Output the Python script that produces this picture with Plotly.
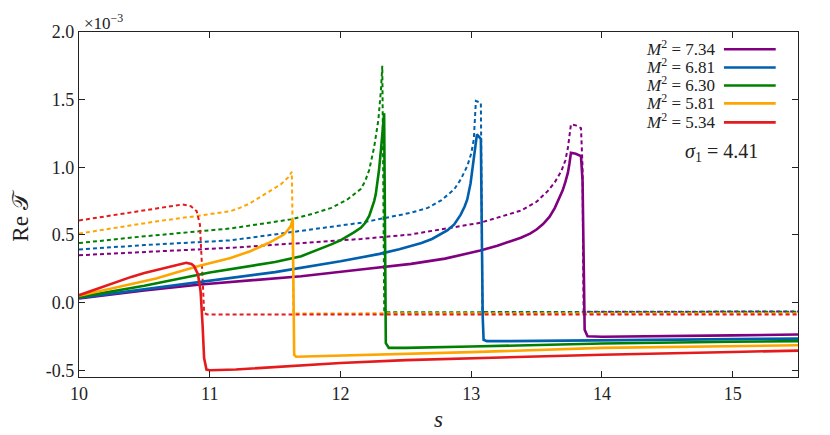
import plotly.graph_objects as go

# Re T (in units of 1e-3) versus s
# solid = one sheet, dashed = the other, one colour per M^2

m2_labels = ["7.34", "6.81", "6.30", "5.81", "5.34"]
colors = ["#800080", "#0060ad", "#008000", "#ffa500", "#e41a1c"]

# M^2 = 7.34
s_734_solid = [10.0, 10.5, 10.93, 11.16, 11.7, 12.156, 12.54, 12.8, 13.07, 13.2, 13.3, 13.38, 13.45,
               13.5, 13.55, 13.6, 13.64, 13.67, 13.7, 13.72, 13.74, 13.752, 13.763, 13.8, 13.84,
               13.852, 13.86, 13.868, 13.89, 14.0, 15.0, 15.5]
t_734_solid = [0.03, 0.09, 0.134, 0.151, 0.195, 0.245, 0.286, 0.325, 0.385, 0.42, 0.45, 0.479, 0.51,
               0.54, 0.58, 0.635, 0.70, 0.76, 0.83, 0.89, 0.96, 1.03, 1.107, 1.10, 1.083,
               0.9, 0.2, -0.2, -0.249, -0.252, -0.242, -0.236]
s_734_dash = [10.0, 10.5, 11.16, 12.156, 12.54, 13.07, 13.38, 13.5, 13.585, 13.64, 13.69, 13.72,
              13.74, 13.763, 13.8, 13.84, 13.852, 13.856, 13.86, 13.9, 15.5]
t_734_dash = [0.35, 0.375, 0.405, 0.47, 0.504, 0.59, 0.68, 0.745, 0.824, 0.89, 0.972, 1.05,
              1.144, 1.317, 1.31, 1.29, 1.0, 0.4, -0.068, -0.068, -0.066]

# M^2 = 6.81
s_681_solid = [10.0, 10.5, 11.0, 11.5, 12.0, 12.3, 12.45, 12.54, 12.62, 12.7, 12.77, 12.82, 12.87,
               12.92, 12.95, 12.97, 12.995, 13.02, 13.035, 13.044, 13.074, 13.08, 13.088, 13.095,
               13.12, 13.3, 14.0, 15.0, 15.5]
t_681_solid = [0.035, 0.10, 0.165, 0.225, 0.305, 0.36, 0.395, 0.417, 0.44, 0.47, 0.505, 0.535, 0.578,
               0.65, 0.71, 0.762, 0.88, 1.083, 1.18, 1.243, 1.21, 0.6, -0.1, -0.275,
               -0.285, -0.285, -0.28, -0.27, -0.266]
s_681_dash = [10.0, 10.5, 11.16, 12.0, 12.156, 12.54, 12.667, 12.77, 12.87, 12.92, 12.97, 13.0,
              13.02, 13.036, 13.074, 13.078, 13.082, 13.086, 13.12, 15.5]
t_681_dash = [0.393, 0.425, 0.46, 0.565, 0.59, 0.664, 0.70, 0.755, 0.837, 0.91, 1.009, 1.10,
              1.206, 1.49, 1.477, 1.0, 0.4, -0.07, -0.07, -0.068]

# M^2 = 6.30
s_630_solid = [10.0, 10.5, 11.0, 11.5, 11.7, 11.8, 11.93, 12.0, 12.05, 12.1, 12.156, 12.19, 12.22,
               12.24, 12.258, 12.27, 12.28, 12.295, 12.31, 12.32, 12.325, 12.334, 12.338, 12.342,
               12.347, 12.37, 12.5, 13.0, 14.0, 15.0, 15.5]
t_630_solid = [0.04, 0.125, 0.222, 0.30, 0.343, 0.38, 0.43, 0.46, 0.487, 0.517, 0.553, 0.59, 0.64,
               0.69, 0.75, 0.80, 0.86, 0.98, 1.13, 1.25, 1.30, 1.40, 0.9, 0.0,
               -0.30, -0.335, -0.335, -0.325, -0.302, -0.29, -0.285]
s_630_dash = [10.0, 10.5, 11.16, 11.62, 11.8, 11.93, 12.05, 12.1, 12.156, 12.19, 12.22, 12.258,
              12.29, 12.31, 12.32, 12.325, 12.33, 12.335, 12.36, 15.5]
t_630_dash = [0.44, 0.49, 0.548, 0.615, 0.66, 0.70, 0.76, 0.80, 0.84, 0.90, 0.98, 1.15,
              1.35, 1.576, 1.75, 1.2, 0.5, -0.072, -0.072, -0.07]

# M^2 = 5.81
s_581_solid = [10.0, 10.3, 10.45, 10.59, 10.75, 10.93, 11.16, 11.31, 11.45, 11.5, 11.57, 11.6,
               11.62, 11.635, 11.638, 11.642, 11.646, 11.66, 12.0, 12.54, 13.0, 14.0, 15.0, 15.5]
t_581_solid = [0.05, 0.113, 0.145, 0.178, 0.225, 0.274, 0.33, 0.38, 0.44, 0.465, 0.505, 0.54,
               0.565, 0.615, 0.40, -0.10, -0.385, -0.40, -0.392, -0.378, -0.366, -0.335, -0.322,
               -0.315]
s_581_dash = [10.0, 10.3, 10.59, 10.9, 11.05, 11.16, 11.23, 11.3, 11.36, 11.416, 11.48, 11.544,
              11.6, 11.628, 11.632, 11.636, 11.64, 11.66, 15.5]
t_581_dash = [0.51, 0.555, 0.60, 0.64, 0.66, 0.676, 0.70, 0.73, 0.765, 0.80, 0.835, 0.874,
              0.925, 0.967, 0.70, 0.30, -0.08, -0.08, -0.078]

# M^2 = 5.34
s_534_solid = [10.0, 10.1, 10.2, 10.3, 10.4, 10.5, 10.6, 10.7, 10.76, 10.82, 10.86,
               10.88, 10.91, 10.93, 10.945, 10.957, 10.975, 11.0, 11.2, 11.5, 12.0, 12.5, 13.0,
               14.0, 15.0, 15.5]
t_534_solid = [0.055, 0.09, 0.125, 0.16, 0.19, 0.218, 0.243, 0.268, 0.282, 0.294, 0.285,
               0.27, 0.21, 0.084, -0.16, -0.41, -0.495, -0.50, -0.495, -0.475, -0.446, -0.425,
               -0.41, -0.385, -0.365, -0.355]
s_534_dash = [10.0, 10.28, 10.59, 10.7, 10.79, 10.855, 10.9, 10.925, 10.94, 10.95, 10.957, 10.98,
              15.5]
t_534_dash = [0.607, 0.65, 0.696, 0.715, 0.725, 0.713, 0.676, 0.578, 0.33, 0.084, -0.076, -0.088,
              -0.088]

solid = [(s_734_solid, t_734_solid), (s_681_solid, t_681_solid), (s_630_solid, t_630_solid),
         (s_581_solid, t_581_solid), (s_534_solid, t_534_solid)]
dashed = [(s_734_dash, t_734_dash), (s_681_dash, t_681_dash), (s_630_dash, t_630_dash),
          (s_581_dash, t_581_dash), (s_534_dash, t_534_dash)]

FONT = "Liberation Serif"

fig = go.Figure()

# dashed first, solid drawn over them
for (sx, ty), col in zip(dashed, colors):
    fig.add_trace(go.Scatter(x=sx, y=ty, mode="lines", showlegend=False,
                             line=dict(color=col, width=2, dash="4px,3px")))
for (sx, ty), col in zip(solid, colors):
    fig.add_trace(go.Scatter(x=sx, y=ty, mode="lines", showlegend=False,
                             line=dict(color=col, width=2.6)))

axis_common = dict(showline=True, linecolor="#222", linewidth=1.3, mirror="ticks",
                   ticks="inside", ticklen=6, tickcolor="#222", showgrid=False, zeroline=False,
                   automargin=False, tickfont=dict(family=FONT, size=18, color="#222"))

fig.update_xaxes(range=[10, 15.5], tickvals=[10, 11, 12, 13, 14, 15],
                 title=dict(text="<i>s</i>", font=dict(family=FONT, size=23, color="#222"), standoff=8),
                 **axis_common)
fig.update_yaxes(range=[-0.55, 2.0], tickvals=[-0.5, 0, 0.5, 1.0, 1.5, 2.0],
                 ticktext=["-0.5", "0.0", "0.5", "1.0", "1.5", "2.0"],
                 **axis_common)

# y title as a rotated annotation so it can sit further left
fig.add_annotation(xref="paper", yref="paper", x=-0.081, y=0.467, xanchor="center", yanchor="middle",
                   text="Re 𝒯", textangle=-90, showarrow=False,
                   font=dict(family=FONT, size=23, color="#222"))

# legend drawn by hand: text right-aligned, line sample on its right
legend_y = [0.954, 0.901, 0.849, 0.797, 0.742]
for lab, col, yy in zip(m2_labels, colors, legend_y):
    fig.add_annotation(xref="paper", yref="paper", x=0.887, y=yy, xanchor="right", yanchor="middle",
                       text="<i>M</i><sup>2</sup> = " + lab, showarrow=False,
                       font=dict(family=FONT, size=17, color="#222"))
    fig.add_shape(type="line", xref="paper", yref="paper", x0=0.897, x1=0.969, y0=yy - 0.004, y1=yy - 0.004,
                  line=dict(color=col, width=2.6))

fig.add_annotation(xref="paper", yref="paper", x=0.894, y=0.652, xanchor="center", yanchor="middle",
                   text="<i>σ</i><sub>1</sub> = 4.41", showarrow=False,
                   font=dict(family=FONT, size=20, color="#222"))
fig.add_annotation(xref="paper", yref="paper", x=0.004, y=1.03, xanchor="left", yanchor="middle",
                   text="×10<sup>−3</sup>", showarrow=False,
                   font=dict(family=FONT, size=17, color="#222"))

fig.update_layout(width=830, height=435, margin=dict(l=71, r=40, t=24, b=66),
                  plot_bgcolor="white", paper_bgcolor="white")

fig.write_html("out.html")
